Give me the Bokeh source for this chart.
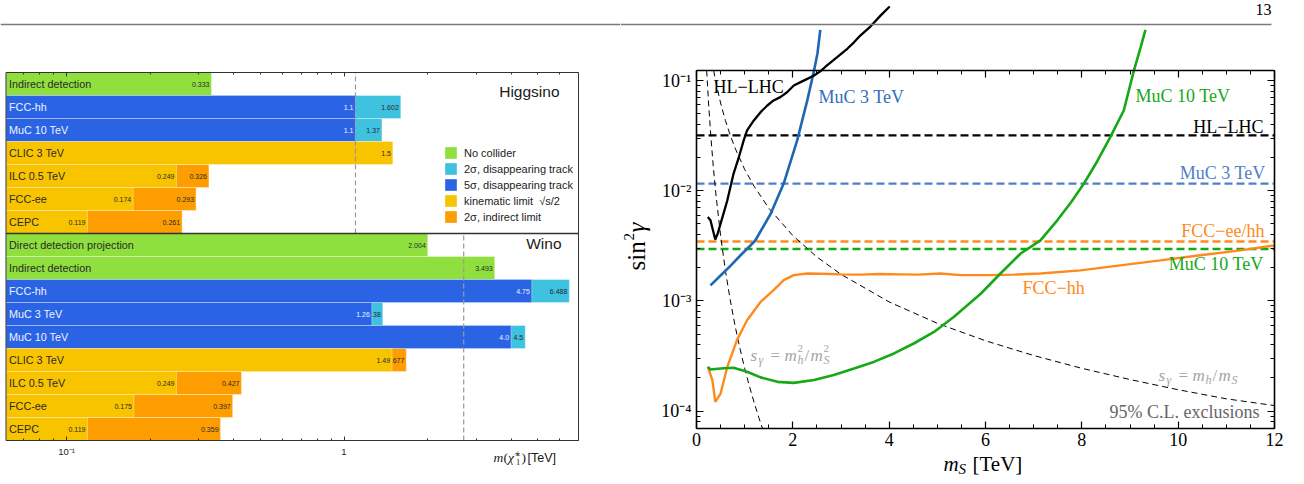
import math
from bokeh.plotting import figure
from bokeh.models import (Range1d, LogAxis, LinearAxis, FixedTicker, CustomJSTickFormatter,
                          ColumnDataSource, Legend, LegendItem, Span)
from bokeh.layouts import row
from bokeh.core.properties import value
from bokeh.embed import file_html
from bokeh.resources import INLINE

# ======================= DATA: left panel (mass reach) =======================
higgsino_rows = ["Indirect detection", "FCC-hh", "MuC 10 TeV", "CLIC 3 TeV", "ILC 0.5 TeV", "FCC-ee", "CEPC"]
higgsino_kind = ["nocollider", "5sigma", "5sigma", "kinematic", "kinematic", "kinematic", "kinematic"]
higgsino_base = [0.333, 1.1, 1.1, 1.5, 0.249, 0.174, 0.119]
higgsino_ext = [None, 1.602, 1.37, None, 0.326, 0.293, 0.261]
higgsino_thermal = 1.1

wino_rows = ["Direct detection projection", "Indirect detection", "FCC-hh", "MuC 3 TeV", "MuC 10 TeV",
             "CLIC 3 TeV", "ILC 0.5 TeV", "FCC-ee", "CEPC"]
wino_kind = ["nocollider", "nocollider", "5sigma", "5sigma", "5sigma", "kinematic", "kinematic", "kinematic", "kinematic"]
wino_base = [2.004, 3.493, 4.75, 1.26, 4.0, 1.49, 0.249, 0.175, 0.119]
wino_ext = [None, None, 6.488, 1.38, 4.5, 1.677, 0.427, 0.397, 0.359]
wino_thermal = 2.7

kinds = ["nocollider", "2sigma", "5sigma", "kinematic", "indirect"]
kind_labels = ["No collider", "2σ, disappearing track", "5σ, disappearing track",
               "kinematic limit  √s/2", "2σ, indirect limit"]
kind_colors = ["#8fe03e", "#3fc1e0", "#2a64e5", "#f8c400", "#fd9d00"]
ext_of = {"5sigma": "2sigma", "kinematic": "indirect"}

left_major = [0.1, 1]
left_minor = [0.07, 0.08, 0.09, 0.2, 0.3, 0.4, 0.5, 0.6, 0.7, 0.8, 0.9, 2, 3, 4, 5, 6]

# ======================= DATA: right panel (sin^2 gamma reach) =======================
ms_hllhc = [0.235, 0.29, 0.36, 0.39, 0.44, 0.50, 0.64, 0.77, 0.88, 0.98, 1.05, 1.19, 1.33, 1.47, 1.60,
            1.74, 1.88, 2.02, 2.16, 2.30, 2.44, 2.57, 2.71, 2.92, 3.13, 3.27, 3.40, 3.61, 3.82, 4.01]
s2_hllhc = [5.77e-3, 5.38e-3, 4.07e-3, 3.60e-3, 4.07e-3, 5.02e-3, 8.17e-3, 1.43e-2, 2.02e-2, 2.86e-2,
            3.52e-2, 4.34e-2, 5.16e-2, 5.93e-2, 6.59e-2, 7.06e-2, 7.83e-2, 9.01e-2, 9.66e-2, 0.1035,
            0.111, 0.121, 0.137, 0.163, 0.194, 0.222, 0.256, 0.309, 0.388, 0.469]

ms_muc3 = [0.29, 0.50, 0.71, 0.91, 1.12, 1.22, 1.54, 1.81, 2.09, 2.30, 2.44, 2.51, 2.57]
s2_muc3 = [1.38e-3, 1.70e-3, 2.09e-3, 2.58e-3, 3.18e-3, 3.53e-3, 6.17e-3, 1.16e-2, 2.86e-2, 6.6e-2,
           0.123, 0.175, 0.288]

ms_muc10 = [0.235, 0.29, 0.50, 0.77, 1.05, 1.33, 1.68, 2.02, 2.44, 2.85, 3.27, 3.68, 4.10, 4.51, 4.93,
            5.34, 5.90, 6.31, 6.73, 7.14, 7.49, 7.78, 8.04, 8.32, 8.59, 8.87, 9.08, 9.22, 9.32]
s2_muc10 = [2.52e-4, 2.38e-4, 2.43e-4, 2.47e-4, 2.27e-4, 2.02e-4, 1.84e-4, 1.80e-4, 1.91e-4, 2.12e-4,
            2.43e-4, 2.79e-4, 3.33e-4, 4.10e-4, 5.22e-4, 7.14e-4, 1.16e-3, 1.77e-3, 2.69e-3, 3.54e-3,
            5.38e-3, 7.9e-3, 1.156e-2, 1.85e-2, 3.06e-2, 5.34e-2, 0.123, 0.200, 0.288]

ms_fcchh = [0.235, 0.33, 0.39, 0.50, 0.64, 0.84, 1.05, 1.33, 1.60, 1.81, 2.02, 2.30, 2.6, 3.0, 3.4, 3.8,
            4.24, 4.6, 5.07, 5.48, 6.10, 6.6, 7.14, 7.97, 8.80, 9.63, 10.46, 11.29, 12.0]
s2_fcchh = [2.52e-4, 1.91e-4, 1.21e-4, 1.44e-4, 2.52e-4, 4.40e-4, 6.67e-4, 9.77e-4, 1.25e-3, 1.54e-3,
            1.71e-3, 1.77e-3, 1.76e-3, 1.74e-3, 1.73e-3, 1.75e-3, 1.74e-3, 1.73e-3, 1.77e-3, 1.71e-3,
            1.71e-3, 1.73e-3, 1.77e-3, 1.89e-3, 2.10e-3, 2.33e-3, 2.59e-3, 2.87e-3, 3.19e-3]

ms_sq = [0.211, 0.25, 0.3, 0.35, 0.4, 0.5, 0.6, 0.7, 0.8, 0.9, 1.0, 1.1, 1.2, 1.3, 1.37]
s2_sq = [0.1233, 0.0625, 0.0301, 0.0163, 0.00954, 0.00391, 0.00188, 0.00102, 5.96e-4, 3.72e-4,
         2.44e-4, 1.67e-4, 1.18e-4, 8.55e-5, 6.95e-5]
ms_lin = [0.356, 0.4, 0.5, 0.6, 0.7, 0.8, 1.0, 1.2, 1.5, 2.0, 2.5, 3.0, 4.0, 5.0, 6.0, 7.0, 8.0, 9.0,
          10.0, 11.0, 12.0]
s2_lin = [0.1233, 0.0977, 0.0625, 0.0434, 0.0319, 0.0244, 0.0156, 0.0109, 0.00694, 0.00391, 0.0025,
          0.00174, 9.77e-4, 6.25e-4, 4.34e-4, 3.19e-4, 2.44e-4, 1.93e-4, 1.56e-4, 1.29e-4, 1.12e-4]

level_names = ["HL−LHC", "MuC 3 TeV", "FCC−ee/hh", "MuC 10 TeV"]
level_values = [0.0317, 0.0116, 3.456e-3, 2.955e-3]
level_colors = ["#000000", "#4f7fc8", "#ff8a1c", "#16a816"]

ms_limits = [0, 12]
right_major_x = [0, 2, 4, 6, 8, 10, 12]
right_minor_x = [0.5 * i for i in range(25)]
right_major_y = [1e-4, 1e-3, 1e-2, 1e-1]

SUP_JS = """
if (tick <= 0) return "";
const e = Math.round(Math.log10(tick));
if (e === 0) return "1";
const sup = {"-": "\u207b", "0": "\u2070", "1": "\u00b9", "2": "\u00b2", "3": "\u00b3",
             "4": "\u2074", "5": "\u2075", "6": "\u2076", "7": "\u2077", "8": "\u2078", "9": "\u2079"};
let s = "";
for (const c of String(e)) s += sup[c];
return "10" + s;
"""

SANS = "Liberation Sans"
SERIF = "Liberation Serif"

# ======================= LEFT FIGURE =======================
L_W, L_H = 620, 484
DEC, PX01 = 277.5, 66.0
ROWH, PY0 = 23.0, 440.0


def lx(px):
    return 10 ** (-1 + (px - PX01) / DEC)


def ly(py):
    return (PY0 - py) / ROWH


XMIN, XMAX = lx(5.5), lx(578)
NH, NW = len(higgsino_rows), len(wino_rows)
NT = NH + NW

pl = figure(width=L_W, height=L_H, x_axis_type="log",
            x_range=Range1d(lx(0), lx(L_W)), y_range=Range1d(ly(L_H), ly(0)),
            output_backend="svg", toolbar_location=None, min_border=0)
pl.grid.visible = False
pl.outline_line_color = None
pl.yaxis.visible = False

all_rows = []
for i in range(NH):
    all_rows.append((NT - i - 0.5, higgsino_rows[i], higgsino_kind[i], higgsino_base[i], higgsino_ext[i]))
for j in range(NW):
    all_rows.append((NW - j - 0.5, wino_rows[j], wino_kind[j], wino_base[j], wino_ext[j]))

inner = {k: dict(y=[], right=[], lab=[], tcol=[]) for k in kinds}
outer = {k: dict(y=[], right=[], lab=[]) for k in kinds}
names = dict(y=[], name=[], col=[])
for (yc, nm, kd, b, e) in all_rows:
    light = "#eef3ff" if kd == "5sigma" else "#2a2a2a"
    inner[kd]["y"].append(yc)
    inner[kd]["right"].append(b)
    inner[kd]["lab"].append(str(b))
    inner[kd]["tcol"].append(light)
    names["y"].append(yc)
    names["name"].append(nm)
    names["col"].append(light)
    if e is not None:
        ek = ext_of[kd]
        outer[ek]["y"].append(yc)
        outer[ek]["right"].append(e)
        outer[ek]["lab"].append(str(e))

renderers = {}
for k in ["2sigma", "indirect"]:
    src = ColumnDataSource(outer[k])
    renderers[k] = pl.hbar(y="y", left=XMIN, right="right", height=1, source=src,
                           fill_color=kind_colors[kinds.index(k)], line_color="white",
                           line_alpha=0.35, line_width=1)
    pl.text(x="right", y="y", text="lab", source=src, x_offset=-2, text_align="right",
            text_baseline="middle", text_font=value(SANS), text_font_size="7px", text_color="#2a2a2a")
for k in ["nocollider", "5sigma", "kinematic"]:
    src = ColumnDataSource(inner[k])
    renderers[k] = pl.hbar(y="y", left=XMIN, right="right", height=1, source=src,
                           fill_color=kind_colors[kinds.index(k)], line_color="white",
                           line_alpha=0.35, line_width=1)
    pl.text(x="right", y="y", text="lab", source=src, x_offset=-2, text_align="right",
            text_baseline="middle", text_font=value(SANS), text_font_size="7px", text_color="tcol")

nsrc = ColumnDataSource(names)
pl.text(x=XMIN, y="y", text="name", source=nsrc, x_offset=3, text_align="left", text_baseline="middle",
        text_font=value(SANS), text_font_size="10.8px", text_color="col")

# thermal-mass dashed lines
pl.segment(x0=[higgsino_thermal], y0=[NW], x1=[higgsino_thermal], y1=[NT], line_color="#999999",
           line_width=1.2, line_dash="5 3")
pl.segment(x0=[wino_thermal], y0=[0], x1=[wino_thermal], y1=[NW], line_color="#999999",
           line_width=1.2, line_dash="5 3")

# frame and separator
pl.quad(left=[XMIN], right=[XMAX], bottom=[0], top=[NT], fill_alpha=0, line_color="#333333", line_width=1)
pl.segment(x0=[XMIN], y0=[NW], x1=[XMAX], y1=[NW], line_color="#333333", line_width=1.3)

# panel titles
pl.text(x=[XMAX], y=[ly(91)], text=["Higgsino"], x_offset=-19, text_align="right", text_baseline="middle",
        text_font=value(SANS), text_font_size="15.5px", text_color="#1a1a1a")
pl.text(x=[XMAX], y=[ly(243)], text=["Wino"], x_offset=-17, text_align="right", text_baseline="middle",
        text_font=value(SANS), text_font_size="15.5px", text_color="#1a1a1a")

lticker = FixedTicker(ticks=left_major, minor_ticks=left_minor)
bx = pl.xaxis[0]
bx.fixed_location = 0
bx.bounds = (XMIN, XMAX)
bx.ticker = lticker
bx.formatter = CustomJSTickFormatter(code=SUP_JS)
bx.major_tick_in, bx.major_tick_out = 4, 0
bx.minor_tick_in, bx.minor_tick_out = 2, 0
bx.axis_line_color = "#333333"
bx.major_tick_line_color = "#333333"
bx.minor_tick_line_color = "#333333"
bx.major_label_text_font = SANS
bx.major_label_text_font_size = "9.5px"
bx.major_label_text_color = "#222222"
bx.major_label_standoff = 5

tx = LogAxis(fixed_location=NT, bounds=(XMIN, XMAX), ticker=lticker,
             major_tick_in=4, major_tick_out=0, minor_tick_in=2, minor_tick_out=0,
             axis_line_color="#333333", major_tick_line_color="#333333", minor_tick_line_color="#333333",
             major_label_text_alpha=0)
pl.add_layout(tx, "above")


def ltext(px, py, txt, size, font=SANS, style="normal", color="#1a1a1a", align="left"):
    pl.text(x=[lx(px)], y=[ly(py)], text=[txt], text_font=value(font), text_font_size=size,
            text_font_style=style, text_color=color, text_align=align, text_baseline="middle")


# x-axis label  m(chi~_1^+-) [TeV]
ltext(493, 457, "m", "13.5px", SERIF, "italic")
ltext(503, 457, "(", "13.5px", SERIF)
ltext(507.5, 457, "χ\u0303", "13.5px", SERIF, "italic")
ltext(515, 452, "±", "8.5px", SERIF)
ltext(515.5, 461, "1", "8.5px", SERIF)
ltext(521, 457, ")", "13.5px", SERIF)
ltext(527, 457, "[TeV]", "12.5px", SANS)

# page rule
pl.add_layout(Span(location=ly(24), dimension="width", line_color="#7a7a7a", line_width=1.5))

legend = Legend(items=[LegendItem(label=kind_labels[i], renderers=[renderers[kinds[i]]]) for i in range(len(kinds))],
                location=(443, L_H - 224), orientation="vertical", glyph_width=15, glyph_height=15,
                label_height=15, spacing=1, padding=0, margin=0, label_standoff=6,
                label_text_font=SANS, label_text_font_size="11px", label_text_color="#222222",
                background_fill_alpha=0, border_line_alpha=0)
pl.add_layout(legend)

# ======================= RIGHT FIGURE =======================
R_W, R_H = 684, 484
XPX0, XS = 696.0, 48.17
YPX1, YS = 80.0, 110.17


def rx(px):
    return (px - XPX0) / XS


def ry(py):
    return 10 ** (-1 - (py - YPX1) / YS)


Y_BOT, Y_TOP = ry(428), ry(70)

pr = figure(width=R_W, height=R_H, y_axis_type="log",
            x_range=Range1d(rx(620), rx(1304)), y_range=Range1d(ry(R_H), ry(0)),
            output_backend="svg", toolbar_location=None, min_border=0)
pr.grid.visible = False
pr.outline_line_color = None

# horizontal reach lines
for nm, lv, col in zip(level_names, level_values, level_colors):
    pr.segment(x0=[ms_limits[0]], y0=[lv], x1=[ms_limits[1]], y1=[lv], line_color=col,
               line_width=2.3, line_dash="8 4")

# theory curves
pr.line(ms_sq, s2_sq, line_color="black", line_width=1, line_dash="6 4")
pr.line(ms_lin, s2_lin, line_color="black", line_width=1, line_dash="6 4")

# exclusion curves
pr.line(ms_fcchh, s2_fcchh, line_color="#ff8a1c", line_width=2.4)
pr.line(ms_muc10, s2_muc10, line_color="#16a816", line_width=2.6)
pr.line(ms_muc3, s2_muc3, line_color="#1f66b3", line_width=2.6)
pr.line(ms_hllhc, s2_hllhc, line_color="black", line_width=2.3)

xt = FixedTicker(ticks=right_major_x, minor_ticks=right_minor_x)
y_minor = [k * 10.0 ** e for e in range(-5, 0) for k in range(2, 10) if Y_BOT <= k * 10.0 ** e <= Y_TOP]
yt = FixedTicker(ticks=right_major_y, minor_ticks=y_minor)

ax_style = dict(axis_line_color="black", axis_line_width=1.6, major_tick_line_color="black",
                minor_tick_line_color="black", major_tick_line_width=1.2, minor_tick_line_width=1,
                major_tick_in=7, major_tick_out=0, minor_tick_in=4, minor_tick_out=0)

bxr = pr.xaxis[0]
bxr.fixed_location = Y_BOT
bxr.bounds = (ms_limits[0], ms_limits[1])
bxr.ticker = xt
for k, v in ax_style.items():
    setattr(bxr, k, v)
bxr.major_label_text_font = SERIF
bxr.major_label_text_font_size = "18px"
bxr.major_label_text_color = "black"
bxr.major_label_standoff = 4

lyr = pr.yaxis[0]
lyr.fixed_location = ms_limits[0]
lyr.bounds = (Y_BOT, Y_TOP)
lyr.ticker = yt
lyr.formatter = CustomJSTickFormatter(code=SUP_JS)
for k, v in ax_style.items():
    setattr(lyr, k, v)
lyr.major_label_text_font = SERIF
lyr.major_label_text_font_size = "18px"
lyr.major_label_text_color = "black"
lyr.major_label_standoff = 5

rax = LogAxis(fixed_location=ms_limits[1], bounds=(Y_BOT, Y_TOP), ticker=yt, major_label_text_alpha=0, **ax_style)
pr.add_layout(rax, "right")
tax = LinearAxis(fixed_location=Y_TOP, bounds=(ms_limits[0], ms_limits[1]), ticker=xt,
                 major_label_text_alpha=0, **ax_style)
pr.add_layout(tax, "above")


def rtext(px, py, txt, color="black", size="18px", align="left", style="normal", font=SERIF,
          dx=0, dy=0, angle=0.0):
    pr.text(x=[rx(px)], y=[ry(py)], text=[txt], x_offset=dx, y_offset=dy, angle=angle,
            text_color=color, text_font=value(font), text_font_size=size, text_font_style=style,
            text_align=align, text_baseline="middle")


# curve labels
rtext(713, 86, "HL−LHC", "black")
rtext(818, 96, "MuC 3 TeV", "#2f6fba")
rtext(1135, 95.5, "MuC 10 TeV", "#16a816")
rtext(1022, 287, "FCC−hh", "#ff8a1c")
# level labels (right aligned)
rtext(1263, 126, level_names[0], level_colors[0], align="right")
rtext(1265, 172, level_names[1], level_colors[1], align="right")
rtext(1264, 230, level_names[2], level_colors[2], align="right")
rtext(1263, 263, level_names[3], level_colors[3], align="right")

# formula labels
GR = "#a5a5a5"
for (px, py, pieces) in [
    (750, 354.5, [("s", 0, 0, "17px", "italic"), ("γ", 8, 5, "12px", "italic"), ("=", 20, 0, "17px", "normal"),
                  ("m", 34, 0, "17px", "italic"), ("2", 47, -7, "11px", "normal"), ("h", 47, 5, "12px", "italic"),
                  ("/", 54, 0, "17px", "normal"), ("m", 60, 0, "17px", "italic"), ("2", 73, -7, "11px", "normal"),
                  ("S", 73, 5, "12px", "italic")]),
    (1158, 374.5, [("s", 0, 0, "17px", "italic"), ("γ", 8, 5, "12px", "italic"), ("=", 20, 0, "17px", "normal"),
                   ("m", 34, 0, "17px", "italic"), ("h", 47, 5, "12px", "italic"),
                   ("/", 54, 0, "17px", "normal"), ("m", 60, 0, "17px", "italic"), ("S", 73, 5, "12px", "italic")]),
]:
    for (t, dx, dy, sz, st) in pieces:
        rtext(px, py, t, GR, size=sz, style=st, dx=dx, dy=dy)

rtext(1259, 411.5, "95% C.L. exclusions", "#666666", align="right")

# axis labels
rtext(943, 463.5, "m", "black", size="21px", style="italic")
rtext(943, 463.5, "S", "black", size="15px", style="italic", dx=15, dy=5)
rtext(972, 463.5, "[TeV]", "black", size="21px")
rtext(636, 270, "sin", "black", size="25px", angle=math.pi / 2)
rtext(636, 270, "2", "black", size="15px", angle=math.pi / 2, dx=-8, dy=-30)
rtext(636, 270, "γ", "black", size="25px", style="italic", angle=math.pi / 2, dy=-38)

# page decoration: rule and page number
pr.segment(x0=[rx(620)], y0=[ry(24)], x1=[rx(1271)], y1=[ry(24)], line_color="#7a7a7a", line_width=1.5)
rtext(1271, 9, "13", "black", size="16px", align="right")

layout = row(pl, pr)
open("out.html", "w").write(file_html(layout, INLINE))
